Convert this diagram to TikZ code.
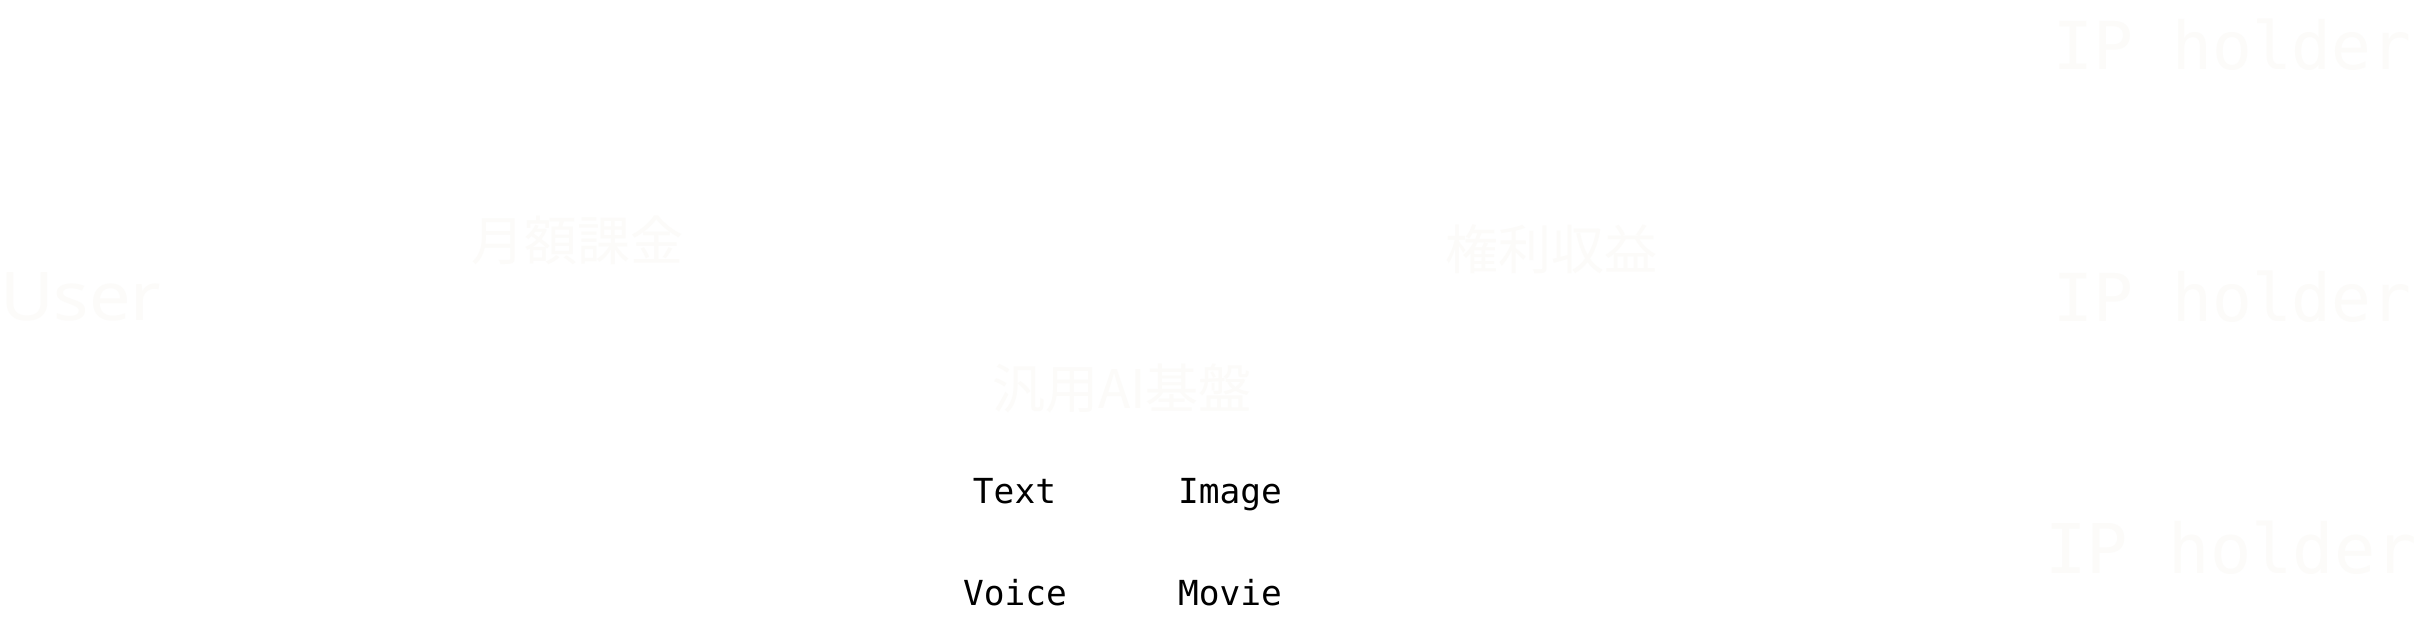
\documentclass[tikz,border=0pt]{standalone}
\usepackage{fontspec}
\setmainfont{Noto Sans}
\newfontfamily\cjkfont{Noto Sans CJK JP}
\newfontfamily\monofont{DejaVu Sans Mono}
\definecolor{faint}{RGB}{252,251,249}
\begin{document}
\begin{tikzpicture}[x=1pt,y=-1pt,
  every node/.style={inner sep=0pt,outer sep=0pt},
  ghost/.style={text=faint},
  iplabel/.style={ghost,anchor=base west,font=\monofont\fontsize{66}{66}\selectfont},
  cjklabel/.style={ghost,anchor=center,font=\cjkfont\fontsize{53}{53}\selectfont},
  medialabel/.style={text=black,anchor=base,font=\monofont\fontsize{34.5}{34.5}\selectfont}]
\useasboundingbox[fill=white] (0,0) rectangle (2421,627);
\node[ghost,anchor=base west,font=\fontsize{67}{67}\selectfont] (user) at (0,320) {\scalebox{1.1}[1]{User}};
\node[cjklabel] (fee) at (577.5,240) {月額課金};
\node[cjklabel] (rev) at (1551,249) {権利収益};
\node[cjklabel] (base) at (1122,388) {汎用AI基盤};
\node[iplabel] (ip1) at (2053.5,69) {IP holder};
\node[iplabel] (ip2) at (2053.5,321) {IP holder};
\node[iplabel,font=\monofont\fontsize{68.6}{68.6}\selectfont] (ip3) at (2045,573) {IP holder};
\node[medialabel] (text) at (1014.5,503) {Text};
\node[medialabel] (image) at (1230,503) {Image};
\node[medialabel] (voice) at (1015,605) {Voice};
\node[medialabel] (movie) at (1230,605) {Movie};
\end{tikzpicture}
\end{document}
